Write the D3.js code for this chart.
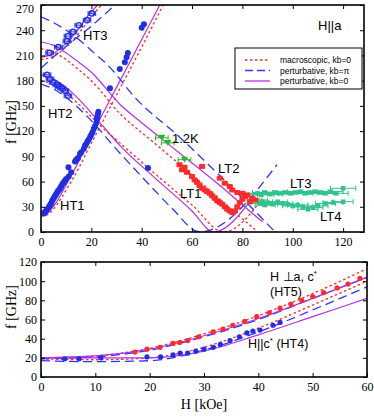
<!DOCTYPE html>
<html>
<head>
<meta charset="utf-8">
<script src="https://cdn.jsdelivr.net/npm/d3@7"></script>
<style>
  body { margin: 0; background: #fff; }
  .tick text { font-family: "Liberation Serif", "Times New Roman", serif; font-size: 12px; fill: #000; }
  .ann { font-family: "Liberation Sans", Arial, sans-serif; fill: #000; }
</style>
</head>
<body>
<svg id="chart" width="374" height="418"></svg>
<script>
// ---- top panel: H||a, data [H kOe, f GHz] ----
let ht1 = [[1.2,22],[1.6,24],[2,25],[2.4,27],[2.8,28],[3.2,30],[3.6,32],[4,34],[4.4,37],[4.8,39],[5.2,41],[5.6,43],[6,45],[6.4,47],
  [6.8,49],[7.2,50],[7.6,52],[8,54],[8.5,57],[9,59],[9.5,61],[10,63],[10.9,77],[11,66],[12,71],[13.5,84],[14,86],[14.7,88],
  [15.5,93],[16,95],[17,99],[17.5,103],[18,105],[18.5,108],[19,110],[19.5,113],[20,116],[20.5,119],[21,123],[21.5,126],
  [22,130],[22.2,134],[22.4,137],[22.6,140],[22.8,143]];
let ht1High = [[27.4,171],[31.3,194],[33.3,202],[34,208],[34.5,213],[40,243],[40.9,247],[42.5,76]];
let ht2 = [[2.4,187],[3.6,182],[4.8,178],[6.3,175],[7.2,173],[8.3,171],[9.5,168],[10.7,162]];
let ht3 = [[3.4,213],[6.9,220],[10.3,227],[10.7,233],[12.7,238],[15,246],[18.3,252],[20.2,260]];
let k12 = [[48,112],[50.4,106],[57,86]];
let lt2 = [[55,80],[64,78],[71,64],[73,58],[75,54],[76,50],[78,47],[80,46],[82,44],[84,40],[83,36]];
let lt1 = [[56,74],[57,77],[58,71],[60,66],[61,62],[62,59],[63,55],[64,52],[65,50],[66,48],[67,46],[68,43],[69,40],
  [70,37],[71,35],[72,33],[73,30],[74,27],[75,25],[76,23],[77,25],[78,30],[79,35],[80,39],[81,42],[85,38]];
let lt3 = [[86,46],[87.5,44],[89,47],[91,45],[93,47],[95,46],[97,47],[99,46],[101,47],[103,48],[105,46],[107,47],
  [109,48],[111,47],[113,46],[115,48],[117,46],[120,52]];
let lt4 = [[86,38],[87,34],[88,36],[89,32],[90,35],[92,33],[94,36],[96,34],[98,33],[100,31],[102,32],[104,30],
  [106,27],[108,29],[110,31],[113,34],[116,35],[120,36]];

// theory curves, top panel
let purpleTop = [
  [[0,19],[2,21],[4,27],[6,35],[8,45],[10,56],[12,67],[15,84],[18,102],[22,126],[30,172],[40,229],[47.2,270]],
  [[0,208],[4,211],[8,219],[12,231],[16,246],[19.4,260],[22.5,270]],
  [[0,226],[5,222],[10,213],[15,202],[20,190],[31.3,152],[40,130],[50,106],[60,82],[70,58],[81.7,28],[88,12]],
  [[0,187],[5,182],[10,172],[15,158],[23.4,130],[31.3,103],[45,65],[60,25],[68.5,0],[84,40]]
];
let redTop = [
  [[0,19],[2,20],[4,24],[6,31],[8,40],[10,50],[12,60],[15,76],[18,94],[22,117],[30,163],[40,220],[48.5,270]],
  [[0,205],[4,208],[8,215],[12,226],[16,240],[20,256],[24,270]],
  [[0,218],[5,214],[10,205],[15,193],[20,180],[31.3,141],[45,106],[56,78],[65,55],[76,26],[85,3]],
  [[0,180],[5,175],[10,165],[15,152],[23.4,127],[31.3,106],[45,70],[60,32],[72.5,0],[88,40]]
];
let blueTop = [
  [[0,195],[10,221],[20,245],[29.4,270]],
  [[0,256],[5,249],[10,240],[15,229],[20,216],[27,197],[37.3,160],[55,113],[70,70],[83,31],[93,0]],
  [[0,176],[5,170],[10,160],[17.5,140],[31.3,94],[45,50],[52.4,27],[63,0],[93.7,80]]
];

// ---- bottom panel ----
let ht5 = [[17.3,26],[19.5,29],[21.9,31],[24.3,35],[25.5,36],[27,38],[29,42],[31.7,47],[33.5,50],[35.3,54],[37.5,58],
  [39.7,63],[42,67],[44,72],[46,76],[48,80],[50,84],[52,88],[54.5,93],[56.5,97],[58.7,103]];
let ht4 = [[4.4,19],[7,19],[11,20],[19.5,21],[22,21],[24.3,23],[25.6,25],[27,25],[28.5,27],[30,29],[31.7,31],[33,34],
  [34.8,38],[36.5,42],[37.9,46],[39,48],[40.3,49],[42.7,54],[44,57]];
let redBot = [
  [[0,20],[10,22],[20,30],[30,45],[40,64],[50,87],[60,113]],
  [[0,19],[10,18],[20,20],[30,31],[40,51],[50,75],[60,100]]
];
let purpleBot = [
  [[0,20],[10,22],[20,29],[30,43],[40,61],[50,82],[60,104]],
  [[0,20],[10,20],[20,20],[30,27],[40,44],[50,63],[60,82]]
];
let blueBot = [
  [[0,19],[10,21],[20,28],[30,42],[40,60],[50,82],[60,104]],
  [[0,17],[10,16],[20,17],[30,28],[40,47],[50,70],[60,94]]
];

let topXTicks = [0, 20, 40, 60, 80, 100, 120];
let topYTicks = [0, 30, 60, 90, 120, 150, 180, 210, 240, 270];
let botXTicks = [0, 10, 20, 30, 40, 50, 60];
let botYTicks = [0, 20, 40, 60, 80, 100, 120];

let legendLabels = ['macroscopic, kb=0', 'perturbative, kb=\u03c0', 'perturbative, kb=0'];

const RED = '#ff2a2a', BLUE = '#2a36ff', PURPLE = '#b431e8', GREEN = '#2fc48c', LGREEN = '#22bb22', DBLUE = '#1f2fe6';

let svg = d3.select('#chart');

function panel(x0, x1, y0, y1, xd, yd, xt, yt, padY) {
  let x = d3.scaleLinear().domain(xd).range([x0, x1]);
  let y = d3.scaleLinear().domain(yd).range([y1, y0]);
  let g = svg.append('g');
  let clipId = 'c' + Math.round(y0);
  svg.append('clipPath').attr('id', clipId).append('rect')
    .attr('x', x0).attr('y', y0).attr('width', x1 - x0).attr('height', y1 - y0);
  let plot = g.append('g').attr('clip-path', 'url(#' + clipId + ')');
  // axes with inward ticks
  g.append('g').attr('transform', 'translate(0,' + y1 + ')')
    .call(d3.axisBottom(x).tickValues(xt).tickSizeInner(-4).tickSizeOuter(0).tickPadding(5));
  g.append('g').attr('transform', 'translate(0,' + y0 + ')')
    .call(d3.axisTop(x).tickValues(xt).tickSizeInner(-4).tickSizeOuter(0).tickFormat(''));
  let yAx = g.append('g').attr('transform', 'translate(' + x0 + ',0)')
    .call(d3.axisLeft(y).tickValues(yt).tickSizeInner(-4).tickSizeOuter(0).tickPadding(padY));
  // keep the top label inside the page
  if (y0 < 10) yAx.selectAll('.tick text').filter(d => d === yd[1]).attr('dy', '0.6em');
  g.append('g').attr('transform', 'translate(' + x1 + ',0)')
    .call(d3.axisRight(y).tickValues(yt).tickSizeInner(-4).tickSizeOuter(0).tickFormat(''));
  g.selectAll('.domain').remove();
  g.append('rect').attr('x', x0).attr('y', y0).attr('width', x1 - x0).attr('height', y1 - y0)
    .attr('fill', 'none').attr('stroke', '#000').attr('stroke-width', 1.6);
  return { x, y, plot };
}

function curves(p, list, color, dash, width) {
  let line = d3.line().x(d => p.x(d[0])).y(d => p.y(d[1])).curve(d3.curveMonotoneX);
  p.plot.selectAll(null).data(list).enter().append('path')
    .attr('d', line).attr('fill', 'none').attr('stroke', color)
    .attr('stroke-width', width || 1.3).attr('stroke-dasharray', dash);
}

function errBars(p, pts, err, color, cap) {
  let g = p.plot.append('g').attr('stroke', color).attr('stroke-width', 1);
  g.selectAll(null).data(pts).enter().append('line')
    .attr('x1', d => p.x(d[0] - err)).attr('x2', d => p.x(d[0] + err))
    .attr('y1', d => p.y(d[1])).attr('y2', d => p.y(d[1]));
  ['-', '+'].forEach(s => {
    g.selectAll(null).data(pts).enter().append('line')
      .attr('x1', d => p.x(s === '-' ? d[0] - err : d[0] + err))
      .attr('x2', d => p.x(s === '-' ? d[0] - err : d[0] + err))
      .attr('y1', d => p.y(d[1]) - cap).attr('y2', d => p.y(d[1]) + cap);
  });
}

function dots(p, pts, r, color) {
  p.plot.selectAll(null).data(pts).enter().append('circle')
    .attr('cx', d => p.x(d[0])).attr('cy', d => p.y(d[1])).attr('r', r).attr('fill', color);
}

function squares(p, pts, s, color) {
  p.plot.selectAll(null).data(pts).enter().append('rect')
    .attr('x', d => p.x(d[0]) - s / 2).attr('y', d => p.y(d[1]) - s / 2)
    .attr('width', s).attr('height', s).attr('fill', color);
}

// ---- top panel ----
let topP = panel(41, 364, 5, 232, [0, 128.3], [0, 270], topXTicks, topYTicks, 7);

curves(topP, purpleTop, PURPLE, null, 1.2);
curves(topP, redTop, RED, '2.5,2.5', 1.3);
curves(topP, blueTop, BLUE, '9,5', 1.3);

dots(topP, ht1, 3, DBLUE);
dots(topP, ht1High, 3, DBLUE);
errBars(topP, ht2, 1.5, DBLUE, 2.5);
errBars(topP, ht3, 1.5, DBLUE, 2.5);
topP.plot.selectAll(null).data(ht2.concat(ht3)).enter().append('circle')
  .attr('cx', d => topP.x(d[0])).attr('cy', d => topP.y(d[1])).attr('r', 2.6)
  .attr('fill', 'none').attr('stroke', DBLUE).attr('stroke-width', 1.4);

errBars(topP, k12, 2.5, LGREEN, 2.5);
topP.plot.selectAll(null).data(k12).enter().append('path')
  .attr('d', d => {
    let cx = topP.x(d[0]), cy = topP.y(d[1]);
    return 'M' + (cx - 3.5) + ',' + (cy - 3) + 'L' + (cx + 3.5) + ',' + (cy - 3) + 'L' + cx + ',' + (cy + 3) + 'Z';
  })
  .attr('fill', LGREEN);

errBars(topP, lt3, 5, GREEN, 2.5);
errBars(topP, lt4, 4, GREEN, 2.5);
squares(topP, lt3, 4.5, GREEN);
squares(topP, lt4, 4.5, GREEN);

errBars(topP, lt1.concat(lt2), 1, RED, 2);
squares(topP, lt1, 5, RED);
squares(topP, lt2, 5, RED);

// annotations top
let annTop = [['HT1', 60, 210], ['HT2', 48, 118], ['HT3', 83, 40], ['1.2K', 172, 143], ['LT2', 218, 173],
  ['LT1', 180, 198], ['LT3', 290, 188], ['LT4', 320, 221]];
svg.selectAll(null).data(annTop).enter().append('text').attr('class', 'ann')
  .attr('x', d => d[1]).attr('y', d => d[2]).attr('font-size', 13).text(d => d[0]);
svg.append('text').attr('class', 'ann').attr('x', 318).attr('y', 30).attr('font-size', 13).text('H||a');

// legend
let lg = svg.append('g');
lg.append('rect').attr('x', 235).attr('y', 48).attr('width', 127).attr('height', 41)
  .attr('fill', '#fff').attr('stroke', '#000').attr('stroke-width', 1);
let legendStyles = [[RED, '2.5,2.5'], [BLUE, '8,4'], [PURPLE, null]];
legendLabels.forEach((t, i) => {
  let yy = 60 + i * 10.5;
  lg.append('line').attr('x1', 245).attr('x2', 270).attr('y1', yy).attr('y2', yy)
    .attr('stroke', legendStyles[i][0]).attr('stroke-width', 1.3).attr('stroke-dasharray', legendStyles[i][1]);
  lg.append('text').attr('class', 'ann').attr('x', 280).attr('y', yy + 3).attr('font-size', 8.5).text(t);
});

// ---- bottom panel ----
let botP = panel(41, 367, 262, 377, [0, 60], [0, 120], botXTicks, botYTicks, 4);
curves(botP, redBot, RED, '2.5,2.5', 1.3);
curves(botP, blueBot, BLUE, '9,5', 1.3);
curves(botP, purpleBot, PURPLE, null, 1.2);
dots(botP, ht5, 2.6, RED);
dots(botP, ht4, 2.6, DBLUE);

let annBot = svg.append('g').attr('class', 'ann').attr('font-size', 12.5);
let t1 = annBot.append('text').attr('x', 270).attr('y', 281);
t1.append('tspan').text('H \u22a5a, c');
t1.append('tspan').attr('dy', -5).attr('font-size', 8).text('*');
annBot.append('text').attr('x', 270).attr('y', 296).text('(HT5)');
let t2 = annBot.append('text').attr('x', 248).attr('y', 348);
t2.append('tspan').text('H||c');
t2.append('tspan').attr('dy', -5).attr('font-size', 8).text('*');
t2.append('tspan').attr('dy', 5).text(' (HT4)');

// axis titles
let serif = '"Liberation Serif", "Times New Roman", serif';
svg.append('text').attr('transform', 'translate(16,122) rotate(-90)').attr('text-anchor', 'middle')
  .attr('font-family', serif).attr('font-size', 14).text('f  [GHz]');
svg.append('text').attr('transform', 'translate(16,307) rotate(-90)').attr('text-anchor', 'middle')
  .attr('font-family', serif).attr('font-size', 14).text('f  [GHz]');
svg.append('text').attr('x', 204).attr('y', 409).attr('text-anchor', 'middle')
  .attr('font-family', serif).attr('font-size', 14).text('H [kOe]');
</script>
</body>
</html>
